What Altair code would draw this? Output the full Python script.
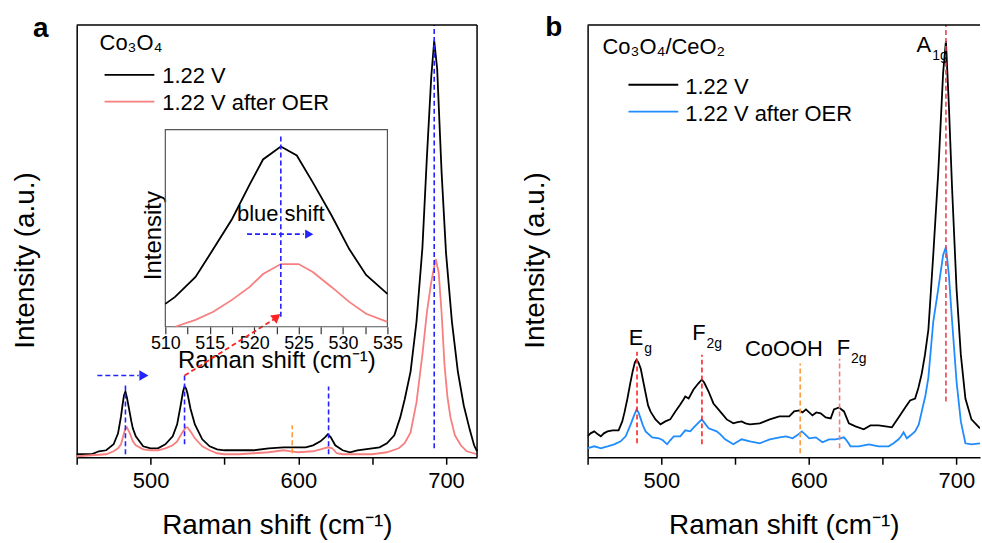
import altair as alt
import pandas as pd

FONT = "Liberation Sans"

# ---------------- data: panel a (Co3O4) ----------------
a_wn_black = [450, 455, 460, 465, 470, 475, 478, 480, 481, 482, 483, 484, 485, 486, 487, 488, 490, 495, 500, 505,
              510, 515, 518, 520, 522, 523, 524, 525, 527, 530, 535, 540, 545, 550, 560, 570, 580, 590, 595, 600,
              605, 610, 615, 618, 620, 622, 625, 630, 635, 640, 645, 650, 655, 660, 665, 669, 672, 676, 680, 684,
              687, 690, 692, 694, 697, 700, 704, 708, 712, 716, 719, 721]
a_i_black = [3, 3, 3, 6, 7, 13, 24, 41, 52, 62, 66, 60, 52, 44, 36, 29, 21, 11, 9, 9,
             13, 21, 33, 49, 66, 71, 69, 64, 49, 33, 18, 11, 8, 7, 7, 7, 9, 10, 10, 10,
             10, 12, 16, 20, 23, 20, 12, 7, 5, 7, 8, 9, 10, 14, 22, 40, 58, 86, 136, 210,
             300, 382, 418, 390, 286, 205, 136, 86, 52, 28, 12, 6]
a_wn_pink = [450, 460, 470, 475, 478, 480, 482, 483, 484, 485, 486, 488, 490, 495, 500, 505, 510, 515, 518, 520,
             522, 524, 525, 527, 530, 535, 540, 545, 550, 560, 570, 580, 590, 595, 600, 610, 615, 620, 623, 626,
             630, 640, 650, 660, 668, 672, 676, 680, 684, 687, 690, 693, 695, 697, 699, 701, 703, 706, 710, 714, 721]
a_i_pink = [1, 2, 3, 6, 9, 13, 24, 29, 30, 27, 24, 16, 12, 8, 7, 7, 9, 12, 16, 21,
            26, 30, 30, 26, 19, 11, 7, 4, 3, 3, 4, 5, 7, 6, 5, 6, 8, 10, 9, 4,
            3, 3, 3, 5, 9, 14, 25, 55, 103, 145, 176, 199, 186, 145, 92, 60, 40, 22, 12, 6, 3]

# inset (zoom of the ~523 cm-1 band)
in_wn_black = [510, 511.1, 513.4, 515.4, 517.5, 519.5, 521, 523, 524.8, 526.6, 528.7, 530.7, 532.6, 535]
in_i_black = [23, 30, 50, 78, 108, 143, 168, 181, 172, 145, 112, 78, 52, 33]
in_wn_pink = [511.1, 513.4, 515.4, 517.5, 519.5, 521, 523, 525, 526.6, 528.7, 530.7, 532.6, 535]
in_i_pink = [0, 7, 15, 27, 40, 53, 63, 63, 55, 40, 25, 13, 5]

# marker lines, panel a
a_mark_wn = [483, 523, 620.5, 692, 595.9]
a_mark_lo = [3, 13, 3, 9, 4]
a_mark_hi = [73, 83, 71, 434, 32]
a_mark_col = ["#2323ff", "#2323ff", "#2323ff", "#2323ff", "#ff9a3c"]

# ---------------- data: panel b (Co3O4/CeO2) ----------------
b_wn_black = [450, 452, 454.5, 457, 459, 461, 463.5, 467, 471, 473.5, 475, 477, 479, 480.5, 482, 483.2, 484.5, 486,
              488, 489.5, 491, 492.6, 496, 499.4, 502.7, 506, 509.5, 512.8, 515, 516.2, 518.5, 521.8, 525, 527.4,
              529, 532, 535.3, 539.8, 544.3, 548.8, 551, 554.4, 557, 560, 566.7, 573.5, 580, 586.7, 590, 593.5,
              595.7, 598, 602.4, 605, 608, 611.4, 614.8, 617, 620.4, 623.8, 627.1, 631.6, 637.2, 641.7, 647.3,
              652, 656.3, 660.8, 665.3, 668.6, 672, 674.3, 676.5, 678.7, 681, 684.3, 687.7, 691, 692.9, 694.9,
              697.1, 700.1, 703, 706.1, 710.2, 716]
b_i_black = [21, 24, 26, 23, 21, 24, 26, 27, 27, 36, 45, 59, 75, 86, 95, 98, 95, 89,
             74, 63, 52, 46, 38, 33, 36, 38, 46, 53, 58, 61, 59, 68, 74, 78,
             75, 66, 54, 46, 38, 34, 35, 36, 34, 33, 34, 38, 41, 41, 46, 47,
             45, 48, 42, 45, 44, 40, 39, 48, 50, 46, 34, 31, 28, 32, 32,
             31, 30, 40, 50, 57, 59, 70, 84, 103, 128, 203, 286, 386, 418, 353,
             269, 169, 103, 59, 38, 29]
b_wn_blue = [450, 452, 454.5, 457, 459, 461, 463.5, 468, 472.4, 475.8, 479.2, 481.5, 483.2, 484.5, 485.9, 487.5,
             489.3, 493.8, 498.3, 501, 503.9, 506, 508.4, 512.8, 516.2, 519.6, 522, 524, 527.4, 529.5, 532, 537.5,
             540, 543.2, 548.8, 551, 554.4, 560, 566.7, 573.5, 580.2, 584.5, 589, 592, 595.2, 597.5, 600.2, 604.7,
             609.2, 613.7, 618.1, 621, 623.8, 626, 628.2, 633.9, 640.6, 647.3, 654.1, 657.4, 660.8, 662.5, 664.2,
             666.4, 669, 672, 674.5, 676.5, 679, 681, 684.3, 687.7, 691, 692.9, 694.9, 697.1, 700.1, 703, 706.1,
             710.2, 716]
b_i_blue = [9, 10, 11, 10, 9, 10, 11, 13, 16, 21, 33, 42, 48, 45, 39, 32,
            26, 20, 19, 17, 13, 17, 21, 21, 27, 26, 30, 33, 38, 34, 29, 26,
            23, 18, 13, 15, 18, 16, 14, 18, 20, 21, 19, 22, 26, 23, 19, 20,
            15, 18, 18, 19, 20, 16, 11, 11, 13, 11, 11, 14, 18, 21, 25,
            19, 22, 26, 33, 46, 62, 80, 136, 169, 203, 211, 183, 136, 76, 36, 14,
            13, 14]

b_mark_wn = [483.5, 527.5, 594.1, 620.8, 692.9]
b_mark_lo = [14, 13, 4, 9, 56]
b_mark_hi = [106, 103, 94, 99, 434]
b_mark_col = ["#ff2424", "#ff2424", "#ff9a3c", "#f47a7a", "#e8424f"]

b_lbl_wn = [487.8, 530.0, 609.5, 627.9, 682.9]
b_lbl_i = [113, 118, 102, 103, 407]
b_lbl_main = ["E", "F", "CoOOH", "F", "A"]
b_lbl_sub = ["g", "2g", "", "2g", "1g"]

# ---------------- layout constants ----------------
WA, WB, H = 402, 394, 434
PINK = "#f77f7f"
BLUE = "#1e8cff"
DBLUE = "#2323ff"

x_axis = alt.Axis(values=[450, 500, 550, 600, 650, 700],
                  labelExpr="datum.value % 100 === 0 ? datum.label : ''",
                  title="Raman shift (cm\u207b\u00b9)", titleFontSize=28, titleFontWeight="normal",
                  titleY=77, titleBaseline="alphabetic", labelFontSize=22, labelPadding=6,
                  tickSize=7, tickWidth=1.5, tickColor="black", domainColor="black", domainWidth=1.5,
                  labelColor="black", titleColor="black", grid=False)


def y_axis(title_x):
    return alt.Axis(title="Intensity (a.u.)", ticks=False, labels=False, domain=True, domainWidth=1.5,
                    domainColor="black", titleFontSize=28, titleFontWeight="normal", titleX=title_x, titleY=236,
                    titleAngle=270, titleBaseline="alphabetic", titleAlign="center", titleColor="black", grid=False)


def X(field, dom):
    return alt.X(f"{field}:Q", scale=alt.Scale(domain=dom, nice=False, zero=False), axis=x_axis)


def Y(field, ax):
    return alt.Y(f"{field}:Q", scale=alt.Scale(domain=[0, H], nice=False, zero=False), axis=ax)


one = pd.DataFrame({"k": [0]})


def frame_rules(w, right=True):
    layers = [alt.Chart(one).mark_rule(color="black", strokeWidth=1.5).encode(
        x=alt.value(0), x2=alt.value(w), y=alt.value(0))]
    if right:
        layers.append(alt.Chart(one).mark_rule(color="black", strokeWidth=1.5).encode(
            x=alt.value(w), y=alt.value(0), y2=alt.value(H)))
    return layers


def legend(title, tx, ty, lx1, lx2, ly, texts, colors, txt_x, txt_y):
    layers = [alt.Chart(one).mark_text(text=title, fontSize=22, align="left", baseline="alphabetic",
                                       font=FONT, color="black").encode(x=alt.value(tx), y=alt.value(ty))]
    for t, c, yy, tyy in zip(texts, colors, ly, txt_y):
        layers.append(alt.Chart(one).mark_rule(color=c, strokeWidth=1.8).encode(
            x=alt.value(lx1), x2=alt.value(lx2), y=alt.value(yy)))
        layers.append(alt.Chart(one).mark_text(text=t, fontSize=22, align="left", baseline="alphabetic",
                                               font=FONT, color="black").encode(
            x=alt.value(txt_x), y=alt.value(tyy)))
    return layers


def panel_label(t, x, y):
    return alt.Chart(one).mark_text(text=t, fontSize=28, fontWeight="bold", align="center",
                                    baseline="alphabetic", font=FONT, color="black").encode(
        x=alt.value(x), y=alt.value(y))


# ---------------- panel a ----------------
DOM_A = [450, 721]
ya = y_axis(-43)
df_ab = pd.DataFrame({"wn": a_wn_black, "I": a_i_black})
df_ap = pd.DataFrame({"wn": a_wn_pink, "I": a_i_pink})
df_am = pd.DataFrame({"wn": a_mark_wn, "lo": a_mark_lo, "hi": a_mark_hi, "c": a_mark_col})

a_black = alt.Chart(df_ab).mark_line(color="black", strokeWidth=1.8).encode(x=X("wn", DOM_A), y=Y("I", ya))
a_pink = alt.Chart(df_ap).mark_line(color=PINK, strokeWidth=1.8).encode(x=X("wn", DOM_A), y=Y("I", ya))
a_marks = alt.Chart(df_am).mark_rule(strokeWidth=1.6, strokeDash=[5, 3]).encode(
    x=X("wn", DOM_A), y=Y("lo", ya), y2="hi:Q", color=alt.Color("c:N", scale=None))

# blue shift arrow (main) and red pointer arrow
df_barrow = pd.DataFrame({"wn": [464], "wn2": [492], "I": [82]})
a_barrow = alt.Chart(df_barrow).mark_rule(color=DBLUE, strokeWidth=1.6, strokeDash=[5, 3]).encode(
    x=X("wn", DOM_A), x2="wn2:Q", y=Y("I", ya))
df_bhead = pd.DataFrame({"wn": [495.5], "I": [82]})
a_bhead = alt.Chart(df_bhead).mark_point(shape="triangle-right", filled=True, size=110, color=DBLUE,
                                         opacity=1).encode(x=X("wn", DOM_A), y=Y("I", ya))
df_rarrow = pd.DataFrame({"wn": [523], "wn2": [584], "I": [82], "I2": [139]})
a_rarrow = alt.Chart(df_rarrow).mark_rule(color="#ff2424", strokeWidth=1.8, strokeDash=[5, 3]).encode(
    x=X("wn", DOM_A), x2="wn2:Q", y=Y("I", ya), y2="I2:Q")
df_rhead = pd.DataFrame({"wn": [585.5], "I": [141]})
a_rhead = alt.Chart(df_rhead).mark_point(shape="triangle-right", filled=True, size=110, color="#ff2424",
                                         angle=322, opacity=1).encode(x=X("wn", DOM_A), y=Y("I", ya))

main_a = alt.layer(
    a_black, a_pink, a_marks, a_barrow, a_bhead, a_rarrow, a_rhead,
    *frame_rules(WA, right=True),
    *legend("Co\u2083O\u2084", 23, 25, 28, 78, [50, 77], ["1.22 V", "1.22 V after OER"], ["black", PINK],
            86, [58, 85]),
    panel_label("a", -36, 12),
)

# inset
in_x_axis = alt.Axis(orient="bottom", offset=-131, values=[510 + 2.5 * i for i in range(11)],
                     labelExpr="datum.value % 5 === 0 ? datum.label : ''", labelFontSize=18, labelPadding=1,
                     labelOverlap=False, labelFlush=False,
                     tickSize=7, tickWidth=1.2, tickColor="#333", domain=False, labelColor="black",
                     title="Raman shift (cm\u207b\u00b9)", titleFontSize=24, titleFontWeight="normal",
                     titleY=41, titleBaseline="alphabetic", titleColor="black", grid=False)
in_y_axis = alt.Axis(orient="left", offset=-89, ticks=False, labels=False, domain=False,
                     title="Intensity", titleFontSize=24, titleFontWeight="normal", titleX=-5, titleY=211,
                     titleAngle=270, titleBaseline="alphabetic", titleAlign="center", titleColor="black",
                     grid=False)


def XI(field):
    return alt.X(f"{field}:Q", scale=alt.Scale(domain=[510, 535], range=[89, 312], nice=False, zero=False),
                 axis=in_x_axis)


def YI(field):
    return alt.Y(f"{field}:Q", scale=alt.Scale(domain=[0, 198], range=[303, 105], nice=False, zero=False),
                 axis=in_y_axis)


df_ib = pd.DataFrame({"wn": in_wn_black, "I": in_i_black})
df_ip = pd.DataFrame({"wn": in_wn_pink, "I": in_i_pink})
in_frame = alt.Chart(pd.DataFrame({"wn": [510], "wn2": [535], "I": [0], "I2": [198]})).mark_rect(
    filled=False, stroke="#555555", strokeWidth=1.2).encode(x=XI("wn"), x2="wn2:Q", y=YI("I"), y2="I2:Q")
in_black = alt.Chart(df_ib).mark_line(color="black", strokeWidth=1.8).encode(x=XI("wn"), y=YI("I"))
in_pink = alt.Chart(df_ip).mark_line(color=PINK, strokeWidth=1.8).encode(x=XI("wn"), y=YI("I"))
in_vline = alt.Chart(pd.DataFrame({"wn": [523], "I": [10], "I2": [192]})).mark_rule(
    color=DBLUE, strokeWidth=1.6, strokeDash=[5, 3]).encode(x=XI("wn"), y=YI("I"), y2="I2:Q")
in_arrow = alt.Chart(pd.DataFrame({"wn": [519.2], "wn2": [525.6], "I": [93]})).mark_rule(
    color=DBLUE, strokeWidth=1.6, strokeDash=[5, 3]).encode(x=XI("wn"), x2="wn2:Q", y=YI("I"))
in_head = alt.Chart(pd.DataFrame({"wn": [526.2], "I": [93]})).mark_point(
    shape="triangle-right", filled=True, size=90, color=DBLUE, opacity=1).encode(x=XI("wn"), y=YI("I"))
in_text = alt.Chart(pd.DataFrame({"wn": [523], "I": [113], "t": ["blue shift"]})).mark_text(
    fontSize=22, font=FONT, color="black", baseline="middle", align="center").encode(
    x=XI("wn"), y=YI("I"), text="t:N")

inset = alt.layer(in_frame, in_black, in_pink, in_vline, in_arrow, in_head, in_text)

panel_a = alt.layer(main_a, inset).resolve_scale(x="independent", y="independent").properties(
    width=WA, height=H)

# ---------------- panel b ----------------
DOM_B = [450, 716]
yb = y_axis(-44)
df_bb = pd.DataFrame({"wn": b_wn_black, "I": b_i_black})
df_bl = pd.DataFrame({"wn": b_wn_blue, "I": b_i_blue})
df_bm = pd.DataFrame({"wn": b_mark_wn, "lo": b_mark_lo, "hi": b_mark_hi, "c": b_mark_col})
df_lbl = pd.DataFrame({"wn": b_lbl_wn, "I": b_lbl_i, "main": b_lbl_main, "sub": b_lbl_sub})

b_black = alt.Chart(df_bb).mark_line(color="black", strokeWidth=1.8, clip=True).encode(
    x=X("wn", DOM_B), y=Y("I", yb))
b_blue = alt.Chart(df_bl).mark_line(color=BLUE, strokeWidth=1.8, clip=True).encode(
    x=X("wn", DOM_B), y=Y("I", yb))
b_marks = alt.Chart(df_bm).mark_rule(strokeWidth=1.6, strokeDash=[5, 3]).encode(
    x=X("wn", DOM_B), y=Y("lo", yb), y2="hi:Q", color=alt.Color("c:N", scale=None))
b_main_txt = alt.Chart(df_lbl).mark_text(fontSize=22, font=FONT, color="black", align="right",
                                         baseline="alphabetic").encode(
    x=X("wn", DOM_B), y=Y("I", yb), text="main:N")
b_sub_txt = alt.Chart(df_lbl).mark_text(fontSize=14, font=FONT, color="black", align="left",
                                        baseline="alphabetic", dx=1, dy=8).encode(
    x=X("wn", DOM_B), y=Y("I", yb), text="sub:N")

panel_b = alt.layer(
    b_black, b_blue, b_marks, b_main_txt, b_sub_txt,
    *frame_rules(WB, right=False),
    *legend("Co\u2083O\u2084/CeO\u2082", 15, 29, 41, 91, [60, 87], ["1.22 V", "1.22 V after OER"],
            ["black", BLUE], 98, [69, 96]),
    panel_label("b", -34, 11),
).properties(width=WB, height=H)

chart = alt.hconcat(panel_a, panel_b, spacing=39).properties(
    padding={"left": 11, "top": 12, "right": 0, "bottom": 0}
).configure_view(stroke="transparent").configure_axis(labelFont=FONT, titleFont=FONT).configure_text(font=FONT)

chart.save("out.html", embed_options={"renderer": "svg", "actions": False})
